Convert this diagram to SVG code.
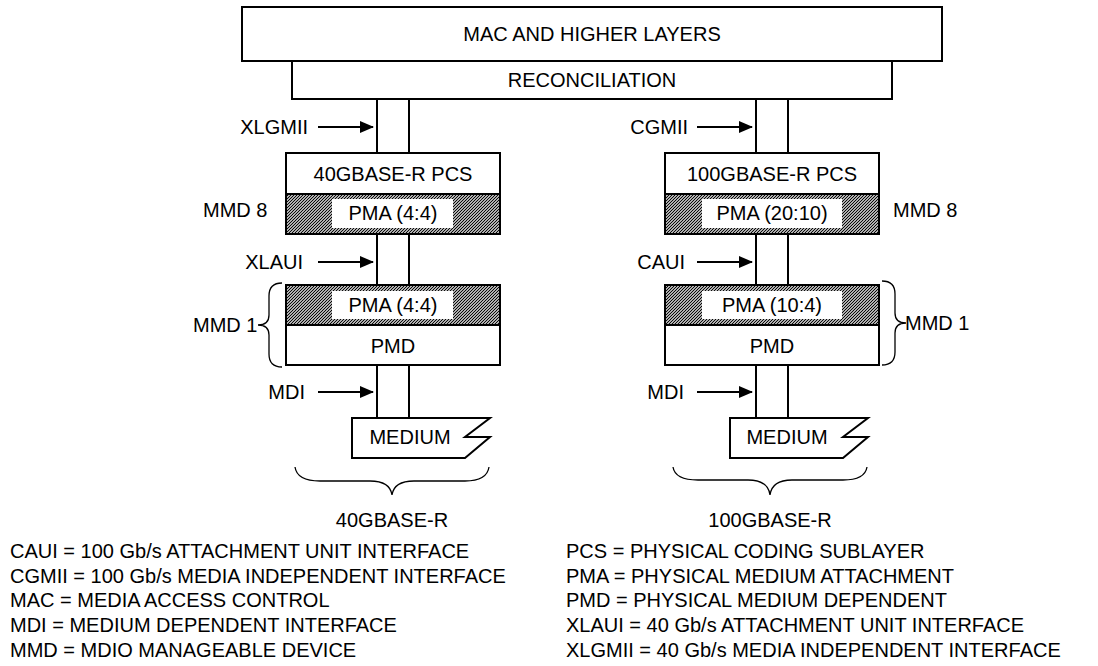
<svg xmlns="http://www.w3.org/2000/svg" width="1098" height="666" viewBox="0 0 1098 666">
<defs>
<pattern id="hatch" width="3" height="3" patternUnits="userSpaceOnUse">
<rect width="3" height="3" fill="#fff"/>
<path d="M-1,1 L1,-1 M0,3 L3,0 M2,4 L4,2" stroke="#000" stroke-width="1.2"/>
</pattern>
<marker id="arr" markerWidth="14" markerHeight="14" refX="13" refY="7" orient="auto" markerUnits="userSpaceOnUse">
<path d="M0,1 L14,7 L0,13 Z" fill="#000"/>
</marker>
</defs>
<style>
text{font-family:"Liberation Sans",Arial,sans-serif;font-size:20px;fill:#000}
.c{text-anchor:middle}
.e{text-anchor:end}
.box{fill:#fff;stroke:#000;stroke-width:2}
.pma{fill:url(#hatch);stroke:#000;stroke-width:2}
.lbl{fill:#fff;stroke:none}
.ln{stroke:#000;stroke-width:2;fill:none}
.br{stroke:#000;stroke-width:1.3;fill:none}
.ar{stroke:#000;stroke-width:2;fill:none;marker-end:url(#arr)}
</style>
<rect width="1098" height="666" fill="#fff"/>

<g id="connectors">
<path class="ln" d="M377,99 V153 M409,99 V153 M377,234 V285 M409,234 V285 M377,365 V418 M409,365 V418"/>
<path class="ln" d="M756,99 V153 M788,99 V153 M756,234 V285 M788,234 V285 M756,365 V418 M788,365 V418"/>
<path class="ar" d="M318,127 H373"/>
<path class="ar" d="M318,262 H373"/>
<path class="ar" d="M318,392 H373"/>
<path class="ar" d="M697,127 H752"/>
<path class="ar" d="M697,262 H752"/>
<path class="ar" d="M697,392 H752"/>
</g>

<g id="mac">
<rect class="box" x="242" y="7" width="700" height="54"/>
<text class="c" x="592" y="41">MAC AND HIGHER LAYERS</text>
</g>
<g id="reconciliation">
<rect class="box" x="292" y="61" width="600" height="38"/>
<text class="c" x="592" y="87">RECONCILIATION</text>
</g>

<g id="pcs40">
<rect class="box" x="286" y="153" width="214" height="41"/>
<text class="c" x="393" y="181">40GBASE-R PCS</text>
</g>
<g id="pma40a">
<rect class="pma" x="286" y="194" width="214" height="40"/>
<rect class="lbl" x="332" y="199" width="121" height="29"/>
<text class="c" x="393" y="220">PMA (4:4)</text>
</g>
<g id="pma40b">
<rect class="pma" x="286" y="285" width="214" height="40"/>
<rect class="lbl" x="332" y="291" width="121" height="28"/>
<text class="c" x="393" y="312">PMA (4:4)</text>
</g>
<g id="pmd40">
<rect class="box" x="286" y="325" width="214" height="40"/>
<text class="c" x="393" y="353">PMD</text>
</g>
<g id="medium40">
<path class="box" d="M352,418 H490 L465,437 H490 L465,458 H352 Z"/>
<text class="c" x="410" y="444">MEDIUM</text>
</g>

<g id="pcs100">
<rect class="box" x="665" y="153" width="214" height="41"/>
<text class="c" x="772" y="181">100GBASE-R PCS</text>
</g>
<g id="pma100a">
<rect class="pma" x="665" y="194" width="214" height="40"/>
<rect class="lbl" x="702" y="199" width="140" height="29"/>
<text class="c" x="772" y="220">PMA (20:10)</text>
</g>
<g id="pma100b">
<rect class="pma" x="665" y="285" width="214" height="40"/>
<rect class="lbl" x="702" y="291" width="140" height="28"/>
<text class="c" x="772" y="312">PMA (10:4)</text>
</g>
<g id="pmd100">
<rect class="box" x="665" y="325" width="214" height="40"/>
<text class="c" x="772" y="353">PMD</text>
</g>
<g id="medium100">
<path class="box" d="M730,418 H868 L843,437 H868 L843,458 H730 Z"/>
<text class="c" x="787" y="444">MEDIUM</text>
</g>

<g id="labels">
<text class="e" x="308" y="134">XLGMII</text>
<text class="e" x="303" y="269">XLAUI</text>
<text class="e" x="305" y="399">MDI</text>
<text x="203" y="217">MMD 8</text>
<text x="193" y="332">MMD 1</text>
<text class="e" x="688" y="134">CGMII</text>
<text class="e" x="685" y="269">CAUI</text>
<text class="e" x="684" y="399">MDI</text>
<text x="893" y="217">MMD 8</text>
<text x="905" y="330">MMD 1</text>
<text class="c" x="392" y="527">40GBASE-R</text>
<text class="c" x="770" y="527">100GBASE-R</text>
</g>

<g id="braces">
<path class="br" d="M282,283 Q269,283 269,296 V315 Q269,325 258,325 Q269,325 269,335 V354 Q269,367 282,367"/>
<path class="br" d="M882,281 Q895,281 895,294 V313 Q895,323 906,323 Q895,323 895,333 V352 Q895,365 882,365"/>
<path class="br" d="M295,467 Q297,481 320,481 H370 Q390,481 392,495 Q394,481 414,481 H465 Q487,481 489,467"/>
<path class="br" d="M673,467 Q675,480 698,480 H748 Q768,480 770,495 Q772,480 792,480 H843 Q865,480 867,467"/>
</g>

<g id="legend">
<text x="10" y="558">CAUI = 100 Gb/s ATTACHMENT UNIT INTERFACE</text>
<text x="10" y="583">CGMII = 100 Gb/s MEDIA INDEPENDENT INTERFACE</text>
<text x="10" y="607">MAC = MEDIA ACCESS CONTROL</text>
<text x="10" y="632">MDI = MEDIUM DEPENDENT INTERFACE</text>
<text x="10" y="657">MMD = MDIO MANAGEABLE DEVICE</text>
<text x="566" y="558">PCS = PHYSICAL CODING SUBLAYER</text>
<text x="566" y="583">PMA = PHYSICAL MEDIUM ATTACHMENT</text>
<text x="566" y="607">PMD = PHYSICAL MEDIUM DEPENDENT</text>
<text x="566" y="632">XLAUI = 40 Gb/s ATTACHMENT UNIT INTERFACE</text>
<text x="566" y="657">XLGMII = 40 Gb/s MEDIA INDEPENDENT INTERFACE</text>
</g>
</svg>
